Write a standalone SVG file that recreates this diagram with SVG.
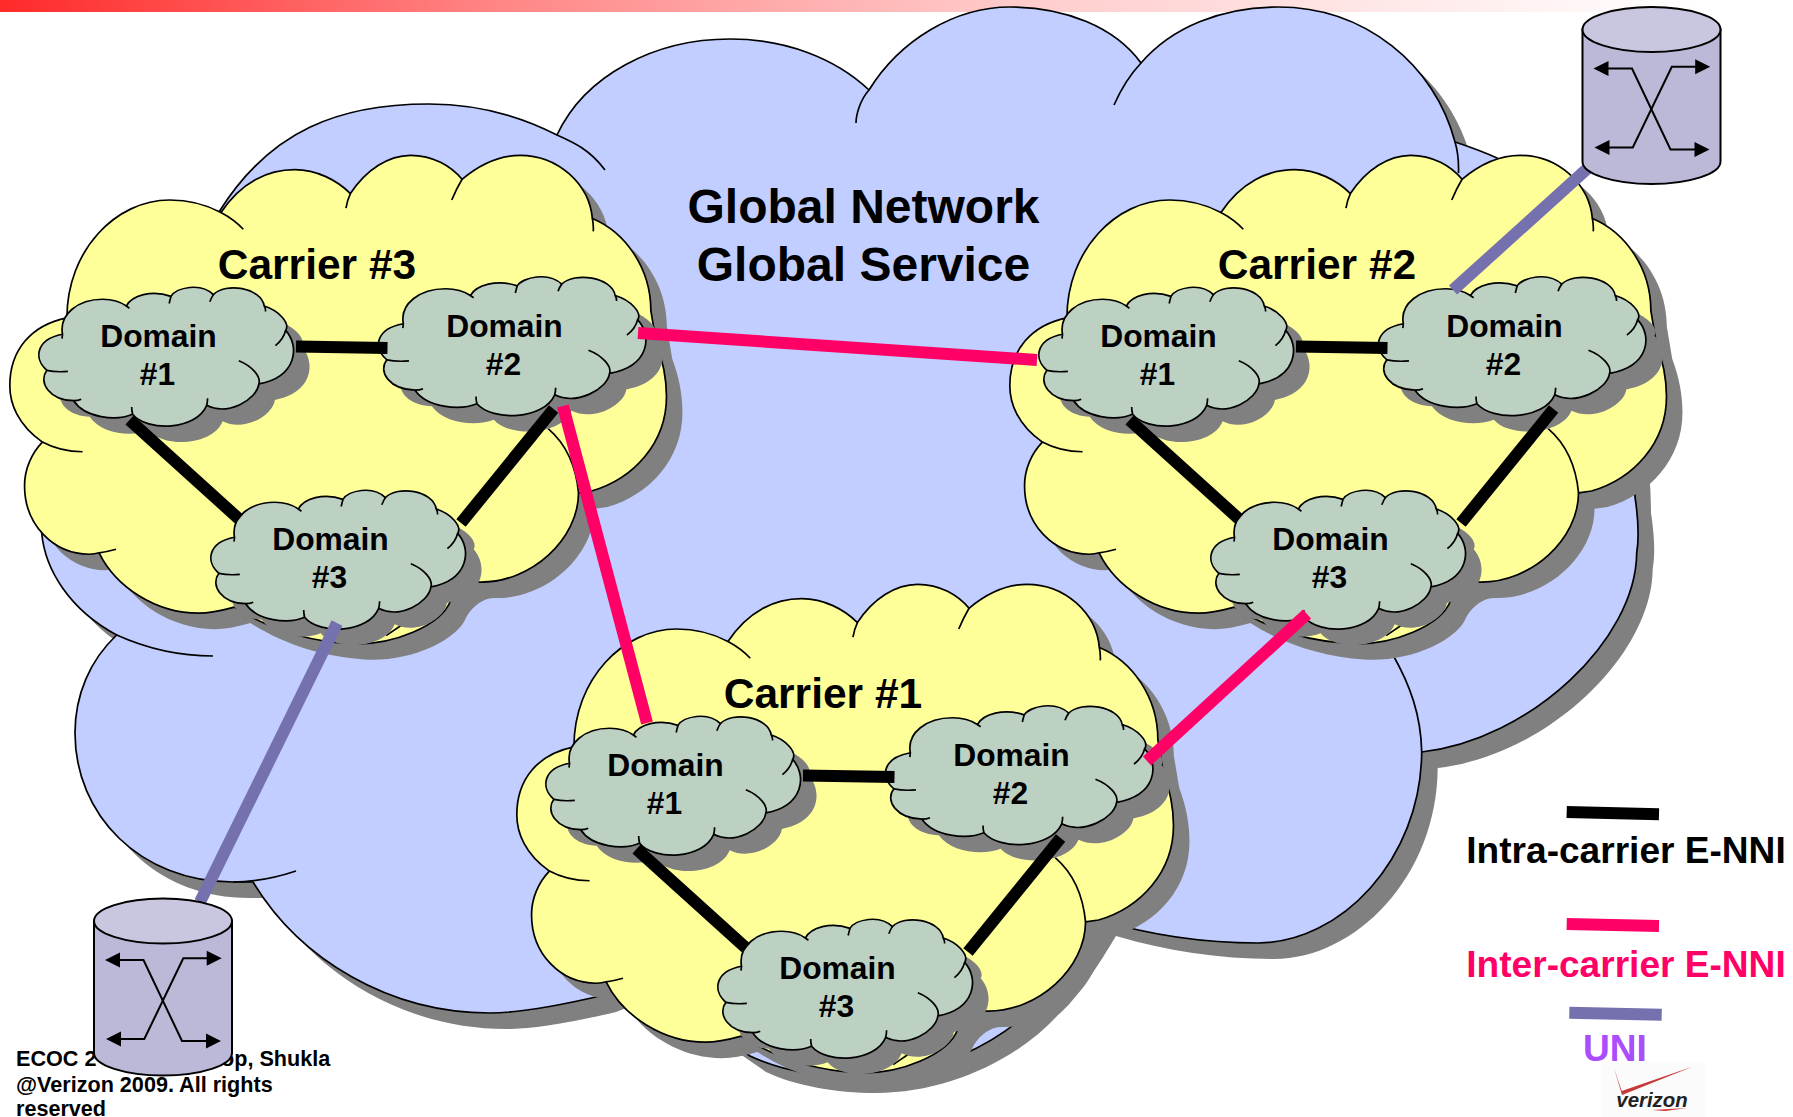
<svg xmlns="http://www.w3.org/2000/svg" width="1793" height="1117" viewBox="0 0 1793 1117">
<style>
text{font-family:"Liberation Sans",Arial,sans-serif;font-weight:bold;text-anchor:middle}
.o{stroke:#000;stroke-width:1.7;fill:none;vector-effect:non-scaling-stroke}
.shape{vector-effect:non-scaling-stroke;stroke-linejoin:round}
.shadow{fill:#808080;stroke:none}
.blue{fill:#C1CEFF;stroke:#000;stroke-width:1.7}
.yellow{fill:#FFFF99;stroke:#000;stroke-width:1.7}
.green{fill:#BDD1C3;stroke:#000;stroke-width:1.7}
.dom{font-size:31.8px;fill:#000}
.car{font-size:42.5px;fill:#000}
.glob{font-size:48px;fill:#000}
.leg{font-size:37.1px}
.foot{font-size:21.6px;text-anchor:start;fill:#000}
.c{fill:none;stroke-width:12}
.intra{stroke:#000}
.inter{stroke:#FF0066}
.uni{stroke:#7571AE}
</style>
<defs>
<linearGradient id="bar" x1="0" x2="1" y1="0" y2="0"><stop offset="0" stop-color="#FF2A2A"/><stop offset=".29" stop-color="#FF8585"/><stop offset=".6" stop-color="#FFCCCC"/><stop offset=".88" stop-color="#FFF0F0"/><stop offset="1" stop-color="#FFFFFF"/></linearGradient>
<path id="globalShape" class="shape" d="M219,212 C270,130 340,104 429,104 C480,104 520,116 557,135 C585,75 655,39 730,39 C785,39 835,58 869,90 C900,40 955,7 1010,7 C1065,7 1115,27 1141,63 C1172,27 1222,7 1278,7 C1365,7 1435,65 1455,142 C1470,147 1484,152 1497,158 C1570,220 1635,350 1635,497 C1640,530 1638,545 1636.7,553 C1636,640 1530,740 1421.7,752 C1421,860 1340,943 1258,943 C1205,943 1150,935 1100,920 C1085,945 1060,985 1042,999 C1000,1045 930,1077 860,1077 C820,1077 780,1070 750,1056 L640,980 L600,996 C540,1010 510,1013 490,1013 C390,1013 300,960 253,882 L233,882 C140,882 75,815 75,733 C75,695 90,660 116.7,635 C70,610 45,570 41.7,533 C42,430 150,300 219,212 Z"/>
<g id="carrierCloud" transform="translate(0,100) scale(.4464,.3571)">
<path id="carrierShape" class="shape" d="M95,958 C40,910 22,850 22,800 C22,700 70,630 150,610 C150,420 260,280 380,280 C425,280 465,295 495,315 C540,230 600,195 660,195 C710,195 755,225 785,262 C820,195 870,155 920,155 C970,155 1010,185 1035,222 C1075,180 1115,155 1165,155 C1250,155 1320,235 1327,332 C1400,370 1458,470 1458,590 L1470,680 C1485,730 1493,780 1493,830 C1493,960 1420,1060 1325,1095 L1296,1100 C1296,1230 1190,1352 1075,1350 C1050,1348 1025,1370 1010,1400 C990,1470 880,1530 780,1522 C690,1515 600,1480 525,1420 C490,1432 470,1437 445,1437 C350,1437 260,1365 222,1268 C215,1271 208,1272 200,1272 C120,1272 55,1190 55,1080 C55,1035 70,990 95,958 Z"/>
</g>
<g id="carrierTails" transform="translate(0,100) scale(.4464,.3571)">
<path class="o" d="M95,958 C120,975 155,985 185,985 M495,315 Q525,335 545,362 M785,262 Q778,280 775,303 M1035,222 Q1022,250 1012,280 M1327,332 Q1330,350 1329,368 M1296,1100 C1290,1020 1265,960 1228,920 M222,1268 Q240,1265 260,1258 M865,1500 L900,1470"/>
</g>
<g id="domainCloud" transform="translate(0,100) scale(.4464,.3571)">
<path id="domainShape" class="shape" d="M105,757 C75,725 80,670 140,656 C132,600 175,558 230,558 C250,558 270,565 283,577 C295,548 340,530 383,550 C395,525 450,510 478,545 C505,510 585,525 592,577 C625,590 650,625 640,645 C672,690 665,775 580,795 C575,840 510,885 463,855 C440,925 330,930 297,880 C260,900 190,890 165,842 C110,840 85,790 105,757 Z"/>
</g>
<g id="domainTails" transform="translate(0,100) scale(.4464,.3571)">
<path class="o" d="M105,757 C115,760 135,762 152,760 M140,656 L139,668 M283,577 L290,583 M383,550 Q381,558 379,570 M478,545 Q474,552 470,565 M592,577 Q595,583 595,592 M640,645 Q635,670 617,688 M535,730 C565,745 585,775 580,795 M463,855 Q465,845 465,835 M297,880 Q295,870 295,860 M165,842 Q175,842 182,838"/>
</g>
<g id="domainArt">
<use href="#domainCloud" class="shadow" transform="translate(16,16)"/>
<use href="#domainCloud" class="green"/>
<use href="#domainTails"/>
</g>
<g id="carrierArt">
<use href="#carrierCloud" class="shadow" transform="translate(16,16)"/>
<use href="#carrierCloud" class="yellow"/>
<use href="#carrierTails"/>
</g>
<g id="cylinderArt">
<path d="M94,921 V1053 A69,22.5 0 0 0 232,1053 V921 Z" fill="#BBB8D8" stroke="#000" stroke-width="2"/>
<ellipse cx="163" cy="921" rx="69" ry="22.5" fill="#C9C6E0" stroke="#000" stroke-width="2"/>
<path d="M118,960 H143.5 L182,1041 H208" fill="none" stroke="#000" stroke-width="2"/>
<path d="M120,1039 H144.3 L183.3,958.3 H208" fill="none" stroke="#000" stroke-width="2"/>
<path d="M105,960 L120,952.5 V967.5 Z M221,1041 L206,1033.5 V1048.5 Z M106,1039 L121,1031.5 V1046.5 Z M221.7,958.3 L206.7,950.8 V965.8 Z" fill="#000"/>
</g>
</defs>

<rect id="top-bar" x="0" y="0" width="1700" height="12" fill="url(#bar)"/>

<g id="footer"><text class="foot" y="1065.7"><tspan x="16">ECOC 2</tspan><tspan x="221">op, Shukla</tspan></text><text class="foot" x="16" y="1092.3">@Verizon 2009. All rights</text><text class="foot" x="16" y="1116">reserved</text></g>

<g id="global-network">
<use href="#globalShape" class="shadow" transform="translate(16,16)"/>
<use href="#globalShape" class="blue"/>
<path class="o" d="M605,170 C590,150 575,143 557,135 M869,90 C860,100 856,115 856,123 M1141,63 Q1125,80 1114,105 M1455,142 Q1459,155 1458.5,173 M1421.7,752 C1421,715 1410,685 1393,655 M233,882 C255,882 275,878 296,871 M116.7,635 C150,650 180,656 213,656"/>
<text class="glob" x="863.5" y="222.7">Global Network</text>
<text class="glob" x="863.5" y="281">Global Service</text>
</g>

<g id="carrier-3">
<use href="#carrierArt"/>
<text class="car" x="317" y="278.6">Carrier #3</text>
<g id="c3-domain-1"><use href="#domainArt"/><text class="dom" x="158.5" y="347">Domain</text><text class="dom" x="157.500" y="385">#1</text></g>
<g id="c3-domain-2" transform="translate(346,-10.5)"><use href="#domainArt" transform="translate(166,0) scale(1.05,1) translate(-166,0)"/><text class="dom" x="158.5" y="347">Domain</text><text class="dom" x="157.500" y="385">#2</text></g>
<g id="c3-domain-3" transform="translate(172,203)"><use href="#domainArt"/><text class="dom" x="158.5" y="347">Domain</text><text class="dom" x="157.500" y="385">#3</text></g>
</g>

<g id="carrier-2" transform="translate(1000,0)">
<use href="#carrierArt"/>
<text class="car" x="317" y="278.6">Carrier #2</text>
<g id="c2-domain-1"><use href="#domainArt"/><text class="dom" x="158.5" y="347">Domain</text><text class="dom" x="157.500" y="385">#1</text></g>
<g id="c2-domain-2" transform="translate(346,-10.5)"><use href="#domainArt" transform="translate(166,0) scale(1.05,1) translate(-166,0)"/><text class="dom" x="158.5" y="347">Domain</text><text class="dom" x="157.500" y="385">#2</text></g>
<g id="c2-domain-3" transform="translate(172,203)"><use href="#domainArt"/><text class="dom" x="158.5" y="347">Domain</text><text class="dom" x="157.500" y="385">#3</text></g>
</g>

<g id="carrier-1" transform="translate(507,429)">
<use href="#carrierArt"/>
<text class="car" x="316" y="278.6">Carrier #1</text>
<g id="c1-domain-1"><use href="#domainArt"/><text class="dom" x="158.5" y="347">Domain</text><text class="dom" x="157.500" y="385">#1</text></g>
<g id="c1-domain-2" transform="translate(346,-10.5)"><use href="#domainArt" transform="translate(166,0) scale(1.05,1) translate(-166,0)"/><text class="dom" x="158.5" y="347">Domain</text><text class="dom" x="157.500" y="385">#2</text></g>
<g id="c1-domain-3" transform="translate(172,203)"><use href="#domainArt"/><text class="dom" x="158.5" y="347">Domain</text><text class="dom" x="157.500" y="385">#3</text></g>
</g>

<g id="connectors">
<g class="c intra">
<path d="M296,346.4 L387.5,348"/><path d="M129.5,420 L239,519"/><path d="M553.6,409 L461,523"/>
<path d="M1296,346.4 L1387.5,348"/><path d="M1129.5,420 L1239,519"/><path d="M1553.6,409 L1461,523"/>
<path d="M803,775.4 L894.5,777"/><path d="M636.5,849 L746,948"/><path d="M1060.6,838 L968,952"/>
</g>
<g class="c inter">
<path d="M638,333 L1037,360"/><path d="M563,406 L647,723"/><path d="M1147,761 L1307,614"/>
</g>
<g class="c uni">
<path d="M337,623 L200,902"/><path d="M1453,290 L1588,168"/>
</g>
</g>

<g id="switch-left"><use href="#cylinderArt"/></g>
<g id="switch-right" transform="translate(1488.5,-891.5)"><use href="#cylinderArt"/></g>

<g id="verizon-logo">
<rect x="1602" y="1062" width="103" height="55" fill="#FBFBFB"/>
<path d="M1614,1068 L1621.7,1091 L1693,1066.5 L1622,1095 Z" fill="#C8383A"/>
<text x="1652" y="1106.5" font-size="20.4" font-style="italic" fill="#222">verizon</text>
<path d="M1652,1110 L1687,1108 L1665,1111 Z" fill="#D03030"/>
</g>

<g id="legend">
<path d="M1566.7,812 L1659,814.2" stroke="#000" stroke-width="12" fill="none"/>
<text class="leg" x="1626" y="862.7" fill="#000">Intra-carrier E-NNI</text>
<path d="M1566.7,924 L1659,926" stroke="#FF0066" stroke-width="12" fill="none"/>
<text class="leg" x="1626" y="977.3" fill="#FF0066">Inter-carrier E-NNI</text>
<path d="M1569.3,1012.8 L1661.7,1014.8" stroke="#7571AE" stroke-width="12" fill="none"/>
<text class="leg" x="1615" y="1061" fill="#AA4DFF">UNI</text>
</g>
</svg>
